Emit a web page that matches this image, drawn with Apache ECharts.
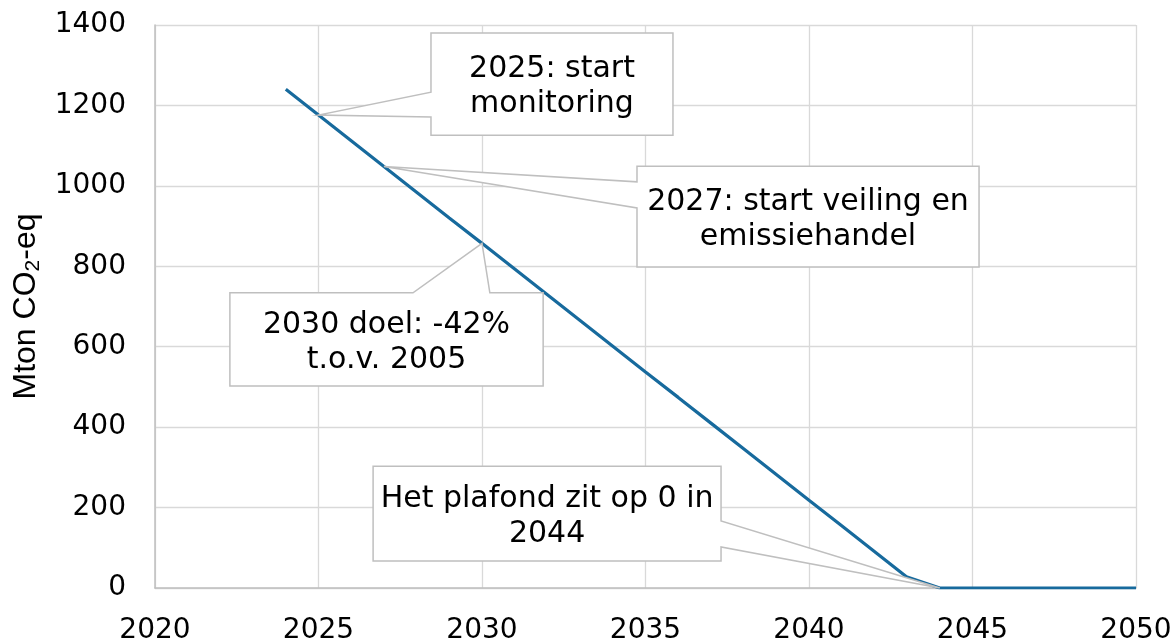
<!DOCTYPE html>
<html>
<head>
<meta charset="utf-8">
<script src="https://cdn.jsdelivr.net/npm/echarts@6/dist/echarts.min.js"></script>
<style>
html,body{margin:0;padding:0;background:#fff;}
#c{width:1174px;height:641px;}
</style>
</head>
<body>
<div id="c"></div>
<script>
// Data
var years = [2024,2025,2026,2027,2028,2029,2030,2031,2032,2033,2034,2035,2036,2037,2038,2039,2040,2041,2042,2043,2044,2045,2046,2047,2048,2049,2050];
var cap = [1240,1176,1112,1048,984,920,857,793,729,665,601,537,474,410,346,282,218,155,91,27,0,0,0,0,0,0,0];
var xTicks = [2020,2025,2030,2035,2040,2045,2050];
var yTicks = [0,200,400,600,800,1000,1200,1400];
var yTitleParts = ['Mton CO', '2', '-eq'];

// Callout texts and their anchor points (year on the line)
var calloutTexts = ['2025: start\nmonitoring', '2027: start veiling en\nemissiehandel', '2030 doel: -42%\nt.o.v. 2005', 'Het plafond zit op 0 in\n2044'];
var calloutYears = [2025, 2027, 2030, 2044];

// Layout of callout boxes (in axis units) – layout only
var calloutLayout = [
  {box:[2028.44, 1380, 2035.84, 1126], side:'left', w:[1233, 1171]},
  {box:[2034.74, 1049, 2045.20, 798], side:'left', w:[1010, 945]},
  {box:[2022.29, 734, 2031.87, 502], side:'top', w:[2027.89, 2030.24]},
  {box:[2026.67, 303, 2037.31, 67], side:'right', w:[167, 102]}
];

var FONT = 'DejaVu Sans, Verdana, sans-serif';
var TFONT = 'Liberation Sans, Arial, sans-serif';
var chart = echarts.init(document.getElementById('c'), null, {renderer:'canvas'});
var series = years.map(function(y,i){return [y, cap[i]];});

chart.setOption({
  animation:false,
  backgroundColor:'#fff',
  grid:{left:155,right:38,top:25,bottom:53,containLabel:false,outerBoundsMode:'none'},
  xAxis:{
    type:'value', min:xTicks[0], max:xTicks[xTicks.length-1], interval:xTicks[1]-xTicks[0],
    axisLine:{show:true,lineStyle:{color:'#bfbfbf',width:1.5}},
    axisTick:{show:false},
    splitLine:{show:true,lineStyle:{color:'#d9d9d9',width:1.3}},
    axisLabel:{color:'#000',fontSize:28,fontFamily:FONT,margin:29,formatter:function(v){return String(v);}}
  },
  yAxis:{
    type:'value', min:yTicks[0], max:yTicks[yTicks.length-1], interval:yTicks[1]-yTicks[0],
    name:'{a|' + yTitleParts[0] + '}{s|' + yTitleParts[1] + '}{a|' + yTitleParts[2] + '}',
    nameLocation:'middle', nameRotate:90, nameGap:101,
    nameTextStyle:{color:'#000',fontFamily:TFONT,
      rich:{a:{fontSize:32,fontFamily:TFONT,color:'#000',lineHeight:36},
            s:{fontSize:21,fontFamily:TFONT,color:'#000',lineHeight:14,verticalAlign:'bottom'}}},
    axisLine:{show:true,lineStyle:{color:'#bfbfbf',width:1.5}},
    axisTick:{show:false},
    splitLine:{show:true,lineStyle:{color:'#d9d9d9',width:1.3}},
    axisLabel:{color:'#000',fontSize:28,fontFamily:FONT,margin:29,formatter:function(v){return String(v);}}
  },
  series:[{
    type:'line', data:series, showSymbol:false, symbol:'none',
    lineStyle:{color:'#176a9d',width:3.2}, z:3
  }]
});

function drawCallouts(){
  var els = [];
  calloutTexts.forEach(function(txt, i){
    var L = calloutLayout[i];
    var yr = calloutYears[i];
    var val = cap[years.indexOf(yr)];
    var tip = chart.convertToPixel({gridIndex:0}, [yr, val]);
    var p1 = chart.convertToPixel({gridIndex:0}, [L.box[0], L.box[1]]);
    var p2 = chart.convertToPixel({gridIndex:0}, [L.box[2], L.box[3]]);
    var x1=p1[0], y1=p1[1], x2=p2[0], y2=p2[1];
    var pts;
    if (L.side==='left'){
      var a = chart.convertToPixel({gridIndex:0},[L.box[0], L.w[0]])[1];
      var b = chart.convertToPixel({gridIndex:0},[L.box[0], L.w[1]])[1];
      pts = [[x1,y1],[x2,y1],[x2,y2],[x1,y2],[x1,b],tip,[x1,a]];
    } else if (L.side==='top'){
      var a2 = chart.convertToPixel({gridIndex:0},[L.w[0], L.box[1]])[0];
      var b2 = chart.convertToPixel({gridIndex:0},[L.w[1], L.box[1]])[0];
      pts = [[x1,y1],[a2,y1],tip,[b2,y1],[x2,y1],[x2,y2],[x1,y2]];
    } else {
      var a3 = chart.convertToPixel({gridIndex:0},[L.box[2], L.w[0]])[1];
      var b3 = chart.convertToPixel({gridIndex:0},[L.box[2], L.w[1]])[1];
      pts = [[x1,y1],[x2,y1],[x2,a3],tip,[x2,b3],[x2,y2],[x1,y2]];
    }
    els.push({type:'polygon', z:10, shape:{points:pts},
      style:{fill:'#fff', stroke:'#bfbfbf', lineWidth:1.5}});
    els.push({type:'text', z:11, x:(x1+x2)/2, y:(y1+y2)/2 + 3,
      style:{text:txt, fill:'#000', font:'30px ' + FONT, align:'center', verticalAlign:'middle', lineHeight:35}});
  });
  chart.setOption({graphic:{elements:els}});
}
drawCallouts();
</script>
</body>
</html>
